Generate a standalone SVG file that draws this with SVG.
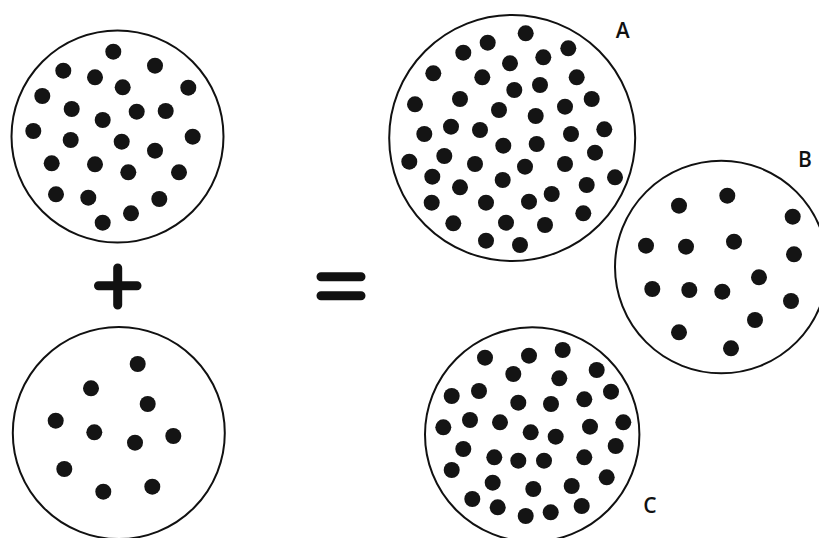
<svg xmlns="http://www.w3.org/2000/svg" width="819" height="538" viewBox="0 0 819 538">
<style>
.ring{fill:#fff;stroke:#111;stroke-width:2}
.d{fill:#141414}
.lbl{font-family:"Open Sans","Liberation Sans",sans-serif;font-size:21px;font-weight:600;fill:#111;text-anchor:middle}
.op{stroke:#111;stroke-width:9;stroke-linecap:round;fill:none}
</style>
<rect width="819" height="538" fill="#fff"/>
<defs><circle id="dot" r="8"/></defs>
<g id="top-left">
<circle class="ring" cx="117.5" cy="136.5" r="106"/>
<g class="d">
<use href="#dot" x="113.3" y="51.7"/><use href="#dot" x="63.3" y="70.7"/><use href="#dot" x="155" y="65.7"/><use href="#dot" x="95" y="77.3"/><use href="#dot" x="122.7" y="87.3"/><use href="#dot" x="188.3" y="87.7"/><use href="#dot" x="42.3" y="96"/><use href="#dot" x="71.7" y="109"/><use href="#dot" x="136.7" y="111.7"/><use href="#dot" x="165.7" y="111"/><use href="#dot" x="102.7" y="120"/><use href="#dot" x="33.3" y="131"/><use href="#dot" x="192.7" y="136.7"/><use href="#dot" x="70.7" y="140"/><use href="#dot" x="121.7" y="141.7"/><use href="#dot" x="155" y="150.7"/><use href="#dot" x="51.7" y="163.3"/><use href="#dot" x="95" y="164.3"/><use href="#dot" x="128.3" y="172.3"/><use href="#dot" x="179" y="172.3"/><use href="#dot" x="56" y="194.3"/><use href="#dot" x="88.3" y="197.7"/><use href="#dot" x="159.3" y="199"/><use href="#dot" x="131" y="213.3"/><use href="#dot" x="102.7" y="222.7"/>
</g>
</g>
<g id="bottom-left">
<circle class="ring" cx="118.8" cy="433" r="106"/>
<g class="d">
<use href="#dot" x="137.7" y="364"/><use href="#dot" x="91" y="388.3"/><use href="#dot" x="147.7" y="404"/><use href="#dot" x="55.7" y="420.7"/><use href="#dot" x="94.3" y="432.3"/><use href="#dot" x="135" y="442.7"/><use href="#dot" x="173.3" y="436"/><use href="#dot" x="64.3" y="469"/><use href="#dot" x="152.3" y="486.7"/><use href="#dot" x="103.3" y="491.7"/>
</g>
</g>
<g id="plus"><path class="op" d="M117.7 268V305M98.5 285.7H137"/></g>
<g id="equals"><path class="op" d="M321 276.7H361M321 295.7H361"/></g>
<g id="circle-A">
<circle class="ring" cx="512.2" cy="138" r="123"/>
<g class="d">
<use href="#dot" x="525.7" y="33.3"/><use href="#dot" x="487.7" y="42.7"/><use href="#dot" x="463.3" y="52.7"/><use href="#dot" x="568.3" y="48.3"/><use href="#dot" x="510" y="63.3"/><use href="#dot" x="543.3" y="57.3"/><use href="#dot" x="433.3" y="73.3"/><use href="#dot" x="482.3" y="77.3"/><use href="#dot" x="576.7" y="77.3"/><use href="#dot" x="540" y="85"/><use href="#dot" x="514.3" y="90"/><use href="#dot" x="415" y="104.3"/><use href="#dot" x="460" y="99"/><use href="#dot" x="591.7" y="99"/><use href="#dot" x="499" y="110"/><use href="#dot" x="565" y="106.7"/><use href="#dot" x="535.7" y="116"/><use href="#dot" x="424.3" y="134"/><use href="#dot" x="451" y="126.7"/><use href="#dot" x="480" y="130"/><use href="#dot" x="604.3" y="129.3"/><use href="#dot" x="571" y="134"/><use href="#dot" x="503.3" y="145.7"/><use href="#dot" x="536.7" y="144"/><use href="#dot" x="409.3" y="161.7"/><use href="#dot" x="444.3" y="156"/><use href="#dot" x="475" y="164"/><use href="#dot" x="595" y="152.7"/><use href="#dot" x="525" y="166.7"/><use href="#dot" x="565" y="164"/><use href="#dot" x="432.3" y="176.7"/><use href="#dot" x="460" y="187.3"/><use href="#dot" x="502.7" y="180"/><use href="#dot" x="586.7" y="185"/><use href="#dot" x="615" y="177.3"/><use href="#dot" x="431.7" y="202.7"/><use href="#dot" x="486" y="202.7"/><use href="#dot" x="529" y="201.7"/><use href="#dot" x="551.7" y="194"/><use href="#dot" x="583.3" y="213.3"/><use href="#dot" x="453.3" y="223.3"/><use href="#dot" x="506" y="222.7"/><use href="#dot" x="545" y="225"/><use href="#dot" x="486" y="240.7"/><use href="#dot" x="520" y="245"/>
</g>
<text class="lbl" x="622.7" y="37.5">A</text>
</g>
<g id="circle-B">
<circle class="ring" cx="721.3" cy="267" r="106.3"/>
<g class="d">
<use href="#dot" x="727.3" y="195.7"/><use href="#dot" x="679" y="205.7"/><use href="#dot" x="792.7" y="216.7"/><use href="#dot" x="646" y="245.7"/><use href="#dot" x="686" y="246.7"/><use href="#dot" x="734" y="241.7"/><use href="#dot" x="794" y="254.3"/><use href="#dot" x="759" y="277.3"/><use href="#dot" x="652.3" y="289"/><use href="#dot" x="689.3" y="290"/><use href="#dot" x="722.3" y="291.7"/><use href="#dot" x="791" y="301"/><use href="#dot" x="755" y="320"/><use href="#dot" x="679" y="332.3"/><use href="#dot" x="731" y="348.3"/>
</g>
<text class="lbl" x="805" y="166.5">B</text>
</g>
<g id="circle-C">
<circle class="ring" cx="532.2" cy="434.5" r="107.2"/>
<g class="d">
<use href="#dot" x="485" y="357.7"/><use href="#dot" x="529" y="355.7"/><use href="#dot" x="562.7" y="350"/><use href="#dot" x="513.3" y="374"/><use href="#dot" x="559.3" y="378.3"/><use href="#dot" x="596.7" y="370"/><use href="#dot" x="451.7" y="396"/><use href="#dot" x="479" y="391"/><use href="#dot" x="518.3" y="402.7"/><use href="#dot" x="551" y="404"/><use href="#dot" x="584.3" y="399.3"/><use href="#dot" x="611" y="391.7"/><use href="#dot" x="443.3" y="427.3"/><use href="#dot" x="470" y="420"/><use href="#dot" x="500" y="422.3"/><use href="#dot" x="530.7" y="432.3"/><use href="#dot" x="555.7" y="436.7"/><use href="#dot" x="590" y="426.7"/><use href="#dot" x="623.3" y="422.3"/><use href="#dot" x="463.3" y="449"/><use href="#dot" x="494.3" y="457.3"/><use href="#dot" x="518.3" y="460.7"/><use href="#dot" x="544" y="460.7"/><use href="#dot" x="584.3" y="457.3"/><use href="#dot" x="615.7" y="446"/><use href="#dot" x="451.7" y="470"/><use href="#dot" x="492.7" y="482.7"/><use href="#dot" x="533.3" y="489"/><use href="#dot" x="571.7" y="486"/><use href="#dot" x="606.7" y="477.3"/><use href="#dot" x="472.3" y="499"/><use href="#dot" x="497.7" y="507.3"/><use href="#dot" x="525.7" y="516"/><use href="#dot" x="550.7" y="512.3"/><use href="#dot" x="581.7" y="506"/>
</g>
<text class="lbl" x="650" y="513">C</text>
</g>
</svg>
